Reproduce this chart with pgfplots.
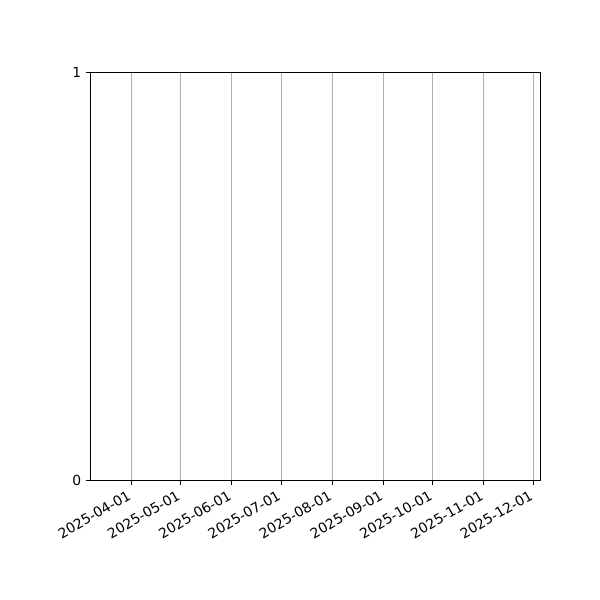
\documentclass[border=0pt]{standalone}
\usepackage{fontspec}
\setmainfont{DejaVu Sans}
\usepackage{pgfplots}
\pgfplotsset{compat=1.18}
\begin{document}
\begin{tikzpicture}
\begin{axis}[
  scale only axis,
  width=324pt, height=293.76pt,
  xmin=-24.77, xmax=248.37,
  ymin=0, ymax=1,
  xtick={0,30,61,91,122,153,183,214,244},
  xticklabels={2025-04-01,2025-05-01,2025-06-01,2025-07-01,2025-08-01,2025-09-01,2025-10-01,2025-11-01,2025-12-01},
  ytick={0,1},
  tick align=outside,
  xtick pos=bottom, ytick pos=left,
  major tick length=3.5pt,
  tick style={black, line width=0.8pt},
  axis line style={line width=0.8pt},
  xmajorgrids,
  grid style={color={rgb,255:red,176;green,176;blue,176}, line width=0.8pt},
  every tick label/.append style={font=\fontsize{10}{12}\selectfont},
  /pgf/number format/assume math mode=true,
  xticklabel style={xshift=-3pt, yshift=-1.5pt, rotate=30, anchor=north east, inner sep=1pt},
  yticklabel style={inner sep=1pt, xshift=-2pt},
]
\end{axis}
\path[use as bounding box] (-65.16pt,-86.04pt) rectangle (366.84pt,345.96pt);
\end{tikzpicture}
\end{document}
